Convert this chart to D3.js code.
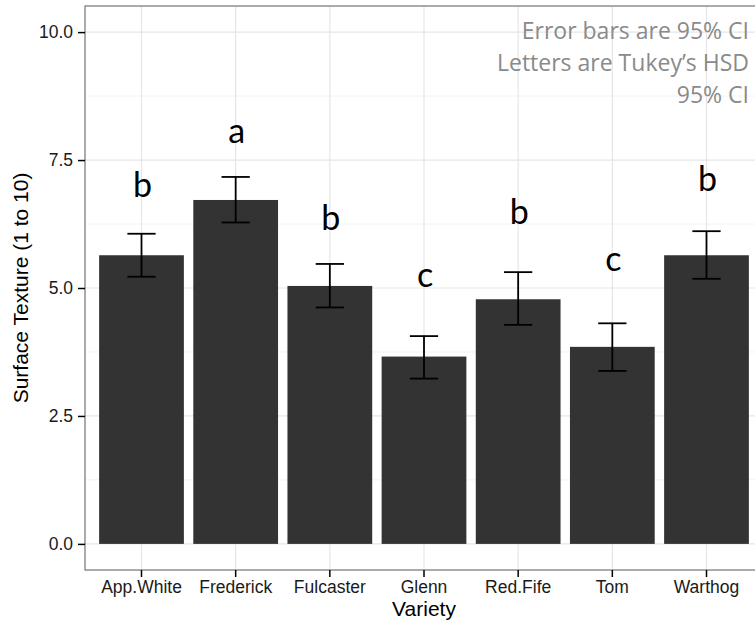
<!DOCTYPE html>
<html>
<head>
<meta charset="utf-8">
<script src="https://cdn.jsdelivr.net/npm/d3@7"></script>
<style>
  body { margin: 0; background: #fff; }
  svg { display: block; }
  .tick-lab { font-family: "Liberation Sans", Arial, sans-serif; font-size: 17.5px; fill: #1a1a1a; }
  .ttl { font-family: "Liberation Sans", Arial, sans-serif; font-size: 21px; fill: #000; }
  .tukey { font-family: Lato, "Open Sans", sans-serif; font-size: 34px; fill: #000; }
  .note { font-family: "Open Sans", Lato, sans-serif; font-size: 23px; fill: #8a8a8a; }
</style>
</head>
<body>
<div id="chart"></div>
<script>
// 各品种表面质地均值 + 95% CI + Tukey 字母
const varieties = ["App.White", "Frederick", "Fulcaster", "Glenn", "Red.Fife", "Tom", "Warthog"];
const means   = [5.64, 6.72, 5.04, 3.66, 4.78, 3.85, 5.64];
const ciLow   = [5.22, 6.28, 4.62, 3.23, 4.28, 3.38, 5.18];
const ciHigh  = [6.06, 7.17, 5.47, 4.06, 5.31, 4.31, 6.11];
const letters = ["b", "a", "b", "c", "b", "c", "b"];
const letterY = [6.78, 7.83, 6.14, 5.02, 6.26, 5.33, 6.89];
const yTicks  = [0, 2.5, 5, 7.5, 10];
const yMinor  = [1.25, 3.75, 6.25, 8.75];
const notes   = ["Error bars are 95% CI", "Letters are Tukey\u2019s HSD", "95% CI"];

const W = 755, H = 623;
const m = { top: 6, left: 85, bottom: 53, right: -8 };   // 面板右侧超出画布（原图被裁）
const pw = W - m.left - m.right, ph = H - m.top - m.bottom;

const svg = d3.select("#chart").append("svg").attr("width", W).attr("height", H);
const g = svg.append("g").attr("transform", `translate(${m.left},${m.top})`);

const x = d3.scaleBand().domain(varieties).range([0, pw]).paddingInner(0.1).paddingOuter(0.15);
const y = d3.scaleLinear().domain([-0.51, 10.51]).range([ph, 0]);
const cx = (d) => x(d) + x.bandwidth() / 2;

// 网格
g.selectAll("line.minor").data(yMinor).join("line").attr("class", "minor")
  .attr("x1", 0).attr("x2", pw).attr("y1", (d) => y(d)).attr("y2", (d) => y(d))
  .attr("stroke", "#f2f2f2").attr("stroke-width", 1);
g.selectAll("line.major").data(yTicks).join("line").attr("class", "major")
  .attr("x1", 0).attr("x2", pw).attr("y1", (d) => y(d)).attr("y2", (d) => y(d))
  .attr("stroke", "#e6e6e6").attr("stroke-width", 1.2);
g.selectAll("line.vgrid").data(varieties).join("line").attr("class", "vgrid")
  .attr("x1", cx).attr("x2", cx).attr("y1", 0).attr("y2", ph)
  .attr("stroke", "#e6e6e6").attr("stroke-width", 1.2);

// 柱子
g.selectAll("rect.bar").data(varieties).join("rect").attr("class", "bar")
  .attr("x", (d) => x(d)).attr("width", x.bandwidth())
  .attr("y", (d, i) => y(means[i])).attr("height", (d, i) => y(0) - y(means[i]))
  .attr("fill", "#333333");

// 误差线
const capW = x.step() * 0.3;
const eb = g.selectAll("g.eb").data(varieties).join("g").attr("class", "eb")
  .attr("stroke", "#000").attr("stroke-width", 1.8);
eb.append("line").attr("x1", cx).attr("x2", cx)
  .attr("y1", (d, i) => y(ciLow[i])).attr("y2", (d, i) => y(ciHigh[i]));
eb.append("line").attr("x1", (d) => cx(d) - capW / 2).attr("x2", (d) => cx(d) + capW / 2)
  .attr("y1", (d, i) => y(ciHigh[i])).attr("y2", (d, i) => y(ciHigh[i]));
eb.append("line").attr("x1", (d) => cx(d) - capW / 2).attr("x2", (d) => cx(d) + capW / 2)
  .attr("y1", (d, i) => y(ciLow[i])).attr("y2", (d, i) => y(ciLow[i]));

// Tukey 字母
g.selectAll("text.tukey").data(varieties).join("text").attr("class", "tukey")
  .attr("x", (d) => cx(d) + 1).attr("y", (d, i) => y(letterY[i]))
  .attr("text-anchor", "middle").text((d, i) => letters[i]);

// 注释
g.selectAll("text.note").data(notes).join("text").attr("class", "note")
  .attr("x", W - m.left - 6).attr("y", (d, i) => 33 + i * 32)
  .attr("text-anchor", "end").text((d) => d);

// 面板边框
g.append("rect").attr("width", pw).attr("height", ph)
  .attr("fill", "none").attr("stroke", "#7f7f7f").attr("stroke-width", 1.3);

// 坐标轴
const ay = g.append("g").call(d3.axisLeft(y).tickValues(yTicks).tickFormat(d3.format(".1f")).tickSize(7).tickPadding(5));
ay.select(".domain").remove();
ay.selectAll("line").attr("stroke", "#000").attr("stroke-width", 1.5);
ay.selectAll("text").attr("class", "tick-lab").attr("fill", null);

const ax = g.append("g").attr("transform", `translate(0,${ph})`)
  .call(d3.axisBottom(x).tickSize(7).tickPadding(4));
ax.select(".domain").remove();
ax.selectAll("line").attr("stroke", "#000").attr("stroke-width", 1.5);
ax.selectAll("text").attr("class", "tick-lab").attr("fill", null);
ay.attr("font-size", null).attr("font-family", null);
ax.attr("font-size", null).attr("font-family", null);

// 标题
svg.append("text").attr("class", "ttl").attr("x", m.left + cx("Glenn")).attr("y", 616)
  .attr("text-anchor", "middle").text("Variety");
svg.append("text").attr("class", "ttl")
  .attr("transform", `translate(28,${m.top + y(5)}) rotate(-90)`)
  .attr("text-anchor", "middle").text("Surface Texture (1 to 10)");
</script>
</body>
</html>
